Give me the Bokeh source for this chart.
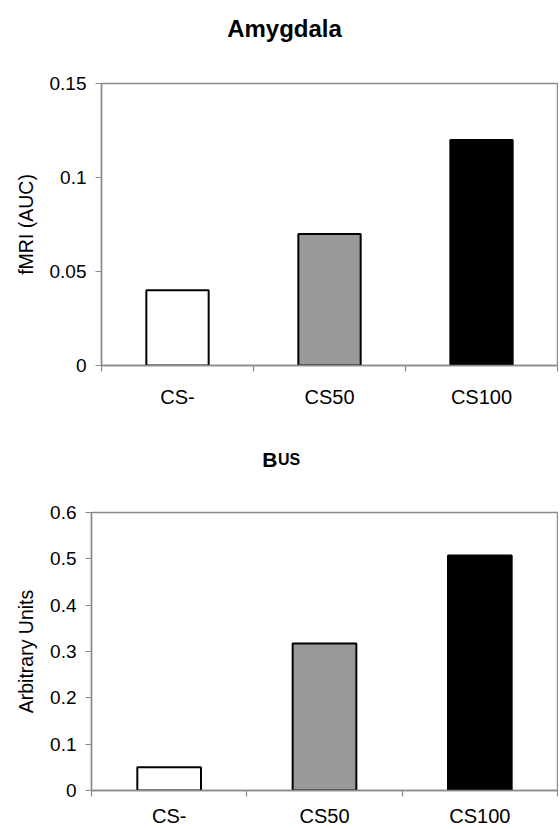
from bokeh.plotting import figure
from bokeh.layouts import column
from bokeh.models import Range1d, LinearAxis, FixedTicker, NumeralTickFormatter
from bokeh.core.properties import value
from bokeh.embed import file_html
from bokeh.resources import INLINE

# ---- data ----
categories = ["CS-", "CS50", "CS100"]
bar_colors = ["#ffffff", "#999999", "#000000"]

amygdala_values = [0.04, 0.07, 0.12]
amygdala_ticks = [0, 0.05, 0.1, 0.15]

us_values = [0.05, 0.317, 0.507]
us_ticks = [0, 0.1, 0.2, 0.3, 0.4, 0.5, 0.6]

FONT = "Liberation Sans"
AXIS_GRAY = "#8a8a8a"
W = 558


def make_strip(height):
    s = figure(width=W, height=height, output_backend="svg", toolbar_location=None,
               x_range=Range1d(0, W), y_range=Range1d(0, height),
               x_axis_location=None, y_axis_location=None,
               min_border_left=0, min_border_right=0, min_border_top=0, min_border_bottom=0)
    s.grid.visible = False
    s.outline_line_color = None
    return s


def make_panel(values, yticks, ylabel, height, bl, bt, bb, br, xstandoff):
    n = len(categories)
    p = figure(width=W, height=height, output_backend="svg", toolbar_location=None,
               x_range=Range1d(0, n), y_range=Range1d(yticks[0], yticks[-1]),
               x_axis_location=None, y_axis_location=None,
               min_border_left=bl, min_border_top=bt, min_border_bottom=bb, min_border_right=br)
    p.grid.visible = False
    p.outline_line_color = AXIS_GRAY
    p.outline_line_width = 1.4

    xs = [i + 0.5 for i in range(n)]
    p.vbar(x=xs, top=values, bottom=0, width=0.41, fill_color=bar_colors,
           line_color="black", line_width=2)

    # y axis
    ya = LinearAxis(ticker=FixedTicker(ticks=yticks),
                    formatter=NumeralTickFormatter(format="0.[00]"))
    ya.axis_label = ylabel
    ya.axis_label_text_font = FONT
    ya.axis_label_text_font_style = "normal"
    ya.axis_label_text_font_size = "19.5px"
    ya.axis_label_text_color = "black"
    ya.axis_label_standoff = 10
    ya.major_label_text_font = FONT
    ya.major_label_text_font_size = "19px"
    ya.major_label_text_color = "black"
    ya.major_label_standoff = 9
    ya.axis_line_color = AXIS_GRAY
    ya.axis_line_width = 1.4
    ya.major_tick_line_color = AXIS_GRAY
    ya.major_tick_line_width = 1.2
    ya.major_tick_out = 6
    ya.major_tick_in = 0
    ya.minor_tick_line_color = None
    p.add_layout(ya, "left")

    # x axis: labels at category centres, separator ticks at category boundaries
    xl = LinearAxis(ticker=FixedTicker(ticks=xs, minor_ticks=list(range(n + 1))),
                    major_label_overrides={x: c for x, c in zip(xs, categories)})
    xl.axis_line_color = AXIS_GRAY
    xl.axis_line_width = 1.4
    xl.major_tick_line_color = None
    xl.major_tick_out = 0
    xl.major_tick_in = 0
    xl.minor_tick_line_color = AXIS_GRAY
    xl.minor_tick_line_width = 1.2
    xl.minor_tick_out = 6
    xl.minor_tick_in = 0
    xl.major_label_standoff = xstandoff
    xl.major_label_text_font = FONT
    xl.major_label_text_font_size = "20px"
    xl.major_label_text_color = "black"
    p.add_layout(xl, "below")
    return p


# title strip: Amygdala
t1 = make_strip(60)
t1.text(x=[284], y=[32], text=["Amygdala"], text_align="center", text_baseline="alphabetic",
        text_font=value(FONT), text_font_style="bold", text_font_size="24px", text_color="black")

# top panel
p1 = make_panel(amygdala_values, amygdala_ticks, "fMRI (AUC)", 350, 101, 23, 45, 1, 14)

# title strip: B US
t2 = make_strip(70)
t2.text(x=[277], y=[21], text=["B"], text_align="right", text_baseline="alphabetic",
        text_font=value(FONT), text_font_style="bold", text_font_size="21px", text_color="black")
t2.text(x=[277.5], y=[21], text=["US"], text_align="left", text_baseline="alphabetic",
        text_font=value(FONT), text_font_style="bold", text_font_size="16px", text_color="black")

# bottom panel
p2 = make_panel(us_values, us_ticks, "Arbitrary Units", 349, 91, 32, 38, 1, 8)

# wrap each figure on its own so that the frames are not aligned with each other
layout = column(column(t1), column(p1), column(t2), column(p2), spacing=0)
open("out.html", "w").write(file_html(layout, INLINE))
